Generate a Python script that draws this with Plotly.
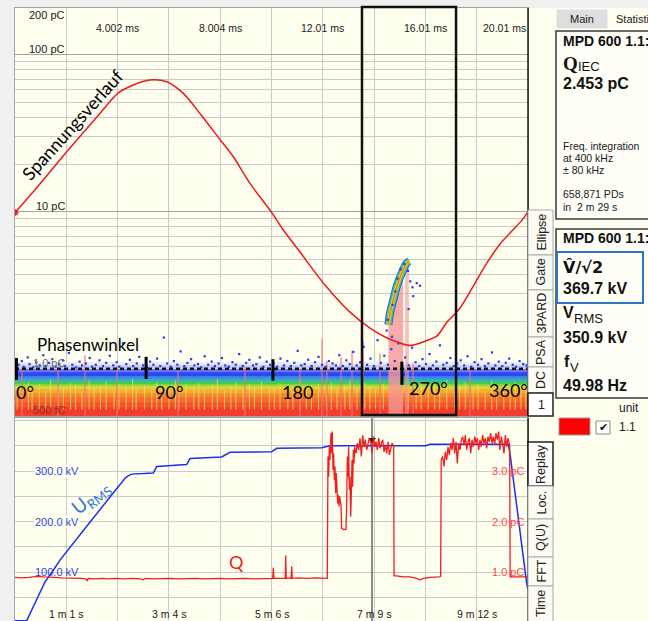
import numpy as np
import plotly.graph_objects as go

W, H = 648, 621


def fx(x):
    """pixel column -> paper x"""
    return x / W


def fy(y):
    """pixel row -> paper y"""
    return 1 - y / H


CREAM = "#fffff0"
GRID = "#cacaca"
SANS = "Liberation Sans, Arial, sans-serif"
SERIF = "Liberation Serif, Times New Roman, serif"
HAND = "Lato, Calibri, sans-serif"

# ------------------------------------------------------------------
# Phase resolved PD pattern (one period: 0..360 deg = 0..20.01 ms)
# ------------------------------------------------------------------
grid_phase = [0, 36, 72, 108, 144, 180, 216, 252, 288, 324, 360]
ms_label_phase = [72, 144, 216, 288, 360]
ms_label_text = ["4.002 ms", "8.004 ms", "12.01 ms", "16.01 ms", "20.01 ms"]
charge_minor = [0.6, 0.7, 0.8, 0.9, 2, 3, 4, 5, 6, 7, 8, 9, 20, 30, 40, 50, 60, 70, 80, 90]
charge_major = [10, 100]
charge_label_val = [180, 100, 10]
charge_label_text = ["200 pC", "100 pC", "10 pC"]

# test voltage over one period (kV)
volt_phase = [0, 12.8, 36.3, 59.6, 72.1, 83.0, 94.7, 106.5, 118.1, 129.8, 144.1, 153.2,
              164.9, 180.1, 188.3, 200.0, 217.5, 235.1, 249.1, 261.1, 270.2, 277.2, 286.3,
              296.1, 303.2, 307.4, 312.3, 331.2, 340.4, 355.8, 360]
volt_kv = [0, 82, 240, 391, 470, 503, 523, 516, 470, 391, 286, 220,
           115, 0, -69, -156, -286, -393, -456, -495, -515, -525, -511,
           -487, -432, -408, -377, -199, -124, -30, 2]

# noise floor of the pattern: charge rows (pC edges) and their colour
floor_edges = [0.50, 0.57, 0.61, 0.66, 0.70, 0.74, 0.77, 0.80, 0.83, 0.86, 0.90, 0.95, 1.00, 1.05, 1.10]
floor_colors = ["#f23d2d", "#f4552b", "#f56c2b", "#f5882d", "#f2ae32", "#dcd632", "#96d640",
                "#44c85c", "#2fb8ae", "#3c8cf0", "#2f48ef", "#6676f3", "#c3caf6", "#e8eaf4"]

# short pulses reaching into the floor (phase, top pC)
hair_phase = [1.5, 5, 9.5, 12, 17, 21.5, 25, 30.5, 34, 39,
              42.5, 47, 52, 55.5, 60, 64, 69.5, 73, 78, 82.5,
              85, 91, 96, 99.5, 103, 108, 112.5, 115, 120, 125.5,
              129, 133, 138.5, 142, 147, 151.5, 155, 160, 164.5, 168,
              173, 178.5, 182, 186, 191.5, 195, 200, 204.5, 208, 213,
              218.5, 222, 226, 231.5, 235, 240, 245.5, 249, 253, 258.5,
              276, 281.5, 285, 290, 294.5, 298, 303, 308.5, 312, 316,
              321.5, 325, 330, 334.5, 338, 343, 347.5, 351, 355, 358.5]
hair_top = [0.78, 0.74, 0.82, 0.76, 0.80, 0.73, 0.85, 0.77, 0.75, 0.81,
            0.79, 0.72, 0.84, 0.76, 0.78, 0.83, 0.74, 0.80, 0.77, 0.86,
            0.75, 0.79, 0.73, 0.82, 0.78, 0.76, 0.84, 0.74, 0.80, 0.77,
            0.81, 0.75, 0.79, 0.86, 0.73, 0.78, 0.82, 0.76, 0.80, 0.74,
            0.83, 0.77, 0.75, 0.81, 0.79, 0.72, 0.85, 0.76, 0.78, 0.80,
            0.74, 0.82, 0.77, 0.79, 0.84, 0.75, 0.81, 0.78, 0.73, 0.80,
            0.79, 0.76, 0.83, 0.74, 0.81, 0.77, 0.85, 0.75, 0.78, 0.82,
            0.76, 0.80, 0.73, 0.84, 0.77, 0.79, 0.75, 0.82, 0.78, 0.80]

# taller single pulses
spike_phase = [4.9, 30.2, 49.1, 71.6, 114.4, 161.4, 200.0, 215.4, 218.9, 228.8, 236.5, 244.2, 256.1, 279.3, 319.3]
spike_top = [1.02, 0.98, 1.22, 1.05, 0.97, 1.04, 0.99, 1.55, 1.12, 1.18, 1.30, 1.50, 1.25, 1.08, 1.00]

# isolated pulses just above the noise floor
dot_phase = [2.5, 4.8, 6.1, 8.9, 10.2, 12.7, 14.9, 17.3, 19.8, 21.4, 23.9, 26.2, 28.5, 31.0, 33.6,
             35.1, 37.8, 40.2, 42.9, 45.3, 47.1, 49.8, 52.4, 54.0, 56.7, 59.3, 61.8, 64.0, 66.5,
             68.9, 71.4, 73.2, 75.8, 78.1, 80.6, 82.9, 85.5, 87.2, 89.9, 92.6, 94.8, 97.1, 99.7,
             101.9, 104.4, 106.8, 109.3, 111.5, 113.9, 116.2, 118.8, 121.0, 123.6, 125.9, 128.4,
             130.7, 133.1, 135.6, 138.0, 140.3, 142.9, 145.2, 147.5, 150.1, 152.6, 154.9, 157.3,
             159.8, 162.2, 164.5, 167.0, 169.4, 171.8, 174.3, 176.6, 179.0, 181.5, 183.9, 186.3,
             188.8, 191.1, 193.6, 196.0, 198.4, 200.9, 203.3, 205.7, 208.2, 210.6, 213.0, 215.5,
             217.9, 220.3, 222.8, 225.2, 227.6, 230.1, 232.5, 234.9, 237.4, 239.8, 242.2, 244.7,
             247.1, 249.5, 251.9, 254.4, 256.8, 259.2, 261.7, 264.1, 266.5, 269.0, 271.4, 273.8,
             276.3, 278.7, 281.1, 283.6, 286.0, 288.4, 290.9, 293.3, 295.7, 298.2, 300.6, 303.0,
             305.5, 307.9, 310.3, 312.8, 315.2, 317.6, 320.1, 322.5, 324.9, 327.4, 329.8, 332.2,
             334.7, 337.1, 339.5, 342.0, 344.4, 346.8, 349.3, 351.7, 354.1, 356.6, 358.9]
dot_pc = [1.06, 1.12, 1.03, 1.18, 1.07, 1.02, 1.10, 1.05, 1.22, 1.04, 1.09, 1.15, 1.03, 1.07, 1.13,
          1.04, 1.26, 1.06, 1.02, 1.11, 1.05, 1.08, 1.17, 1.03, 1.06, 1.13, 1.04, 1.09, 1.21,
          1.05, 1.10, 1.03, 1.45, 1.07, 1.14, 1.04, 1.08, 1.19, 1.05, 1.03, 1.11, 1.06, 1.16,
          1.04, 1.58, 1.08, 1.03, 1.12, 1.06, 1.29, 1.04, 1.09, 1.15, 1.05, 1.07,
          1.02, 1.20, 1.06, 1.11, 1.04, 1.08, 1.17, 1.05, 1.03, 1.10, 1.06, 1.24,
          1.04, 1.09, 1.14, 1.05, 1.07, 1.18, 1.03, 1.11, 1.06, 1.08, 1.03, 1.16,
          1.05, 1.12, 1.04, 1.09, 1.30, 1.05, 1.07, 1.14, 1.04, 1.10, 1.19, 1.06,
          1.03, 1.12, 1.08, 1.05, 1.22, 1.04, 1.13, 1.07, 1.28, 1.05, 1.10, 1.38,
          1.06, 1.16, 1.04, 1.52, 1.09, 1.21, 1.06, 1.33, 1.12, 1.45, 1.07, 1.18,
          1.05, 1.36, 1.10, 1.04, 1.15, 1.07, 1.24, 1.05, 1.11, 1.41, 1.06, 1.09,
          1.17, 1.04, 1.08, 1.13, 1.05, 1.20, 1.03, 1.10, 1.06, 1.15, 1.04, 1.08,
          1.27, 1.05, 1.11, 1.04, 1.09, 1.16, 1.06, 1.03, 1.12, 1.07, 1.05]

# PD cluster in the negative half wave (ridge of the pattern)
cluster_phase = [262.0, 263.2, 265.5, 267.9, 271.4, 274.9, 276.7]
cluster_pc = [1.91, 2.26, 2.75, 3.34, 4.07, 4.71, 4.83]
cluster_dot_phase = [260.8, 261.5, 264.5, 266.9, 268.4, 270.6, 273.2, 275.8, 277.4, 278.9, 281.9, 284.2, 279.5, 276.2, 264.9]
cluster_dot_pc = [1.75, 2.05, 1.60, 3.10, 3.75, 4.30, 4.65, 4.20, 3.60, 3.30, 3.51, 3.38, 2.90, 2.40, 2.55]
# PD magnitude histogram bars under the cluster
bar_env_phase = [262.0, 262.0, 263.2, 265.5, 267.9, 271.4, 272.3, 272.3]
bar_env_pc = [0.5, 1.91, 2.26, 2.75, 3.34, 4.07, 4.20, 0.5]
bar2_phase = [273.8, 273.8, 276.4, 276.4]
bar2_pc = [0.5, 4.83, 4.83, 0.5]

# phase markers and labels
phase_mark = [1, 92, 181, 271.5]
phase_mark_lo = [0.85, 0.86, 0.84, 0.79]
phase_mark_hi = [1.17, 1.19, 1.15, 1.11]
phase_label_text = ["0°", "90°", "180", "270°", "360°"]
phase_label_pos = [7, 108, 198.5, 290, 346]
phase_label_pc = [0.714, 0.714, 0.714, 0.757, 0.735]

gate_phase = [243.5, 309.5]

# ------------------------------------------------------------------
# Trend over time: test voltage (kV RMS) and apparent charge (pC)
# ------------------------------------------------------------------
time_grid = [0, 61.5, 123, 184.5, 246, 307.5, 369, 430.5, 492, 553.5, 615]
time_label_val = [61.5, 184.5, 307.5, 430.5, 553.5]
time_label_text = ["1 m 1 s", "3 m 4 s", "5 m 6 s", "7 m 9 s", "9 m 12 s"]
kv_grid = [50, 100, 150, 200, 250, 300, 350, 400]
kv_label_val = [300, 200, 100]
pc_label_val = [3.0, 2.0, 1.0]

urms_time = [0, 14.0, 21.9, 30.0, 36.0, 45.9, 53.9, 86.0, 131.9, 135.0, 139.9, 165.8, 169.9, 205.8,
             209.8, 247.8, 257.8, 307.7, 313.7, 367.7, 377.6, 492.7, 497.5, 591.4, 593.4, 613.4, 615]
urms_kv = [4, 4, 32, 62, 81, 104, 124, 191, 286, 290, 294, 296, 309, 313,
           325, 328, 337, 338, 345, 346, 350, 350, 353, 353, 335, 78, 66]

q_time = [0, 8, 16, 22, 28, 34, 40, 48, 56, 64, 72, 80, 85, 86.5, 88, 96, 104, 112, 120, 130, 140,
          150, 154, 156, 166, 176, 186, 196, 206, 216, 226, 236, 246, 256, 266, 276, 286, 296, 304,
          309, 309.7, 310.4, 318, 324, 324.5, 325.2, 328, 331, 331.7, 332.4, 340, 350, 360, 368, 374.4,
          375.2, 376.0, 376.8, 377.6, 378.8, 379.6, 380.4, 381.2, 382.0, 382.8, 383.6, 384.4, 385.2,
          386.0, 386.8, 387.6, 388.4, 389.2, 390.0, 390.8, 391.6, 393.6, 396.8, 397.6, 398.4, 399.2,
          400.0, 400.8, 401.6, 402.4, 403.2, 404.0, 404.8, 405.6, 406.4, 407.2, 408.8, 410.4, 412.0,
          413.6, 415.2, 416.8, 418.4, 420.0, 421.6, 423.2, 424.8, 426.4, 428.0, 429.6, 431.2, 432.8,
          434.4, 436.0, 437.6, 439.2, 440.8, 442.4, 444.0, 445.6, 447.2, 448.8, 450.4, 452.0, 453.2,
          454.0, 454.4, 457.6, 465.5, 473.5, 481.5, 485.5, 489.5, 497.5, 508.7, 510.3,
          511.0, 512.7, 514.3, 515.9, 517.5, 519.1, 520.7, 522.3, 523.9, 525.5, 527.1, 528.7, 530.3,
          531.9, 533.5, 535.1, 536.7, 538.3, 539.9, 541.5, 543.1, 544.7, 546.3, 547.9, 549.5, 551.1,
          552.7, 554.3, 555.9, 557.4, 559.0, 560.6, 562.2, 563.8, 565.4, 567.0, 568.6, 570.2, 571.8,
          573.4, 575.0, 576.6, 578.2, 579.8, 581.4, 583.0, 584.6, 586.2, 587.8, 589.4, 591.0, 592.2,
          593.0, 593.6, 600, 607, 615]
q_pc = [0.90, 0.89, 0.90, 0.91, 0.92, 0.91, 0.90, 0.90, 0.89, 0.89, 0.88, 0.88, 0.87, 0.83, 0.88, 0.87, 0.88, 0.87, 0.88, 0.87, 0.88,
        0.87, 0.85, 0.88, 0.87, 0.88, 0.88, 0.87, 0.88, 0.88, 0.87, 0.88, 0.88, 0.87, 0.88, 0.88, 0.87, 0.88, 0.88,
        0.88, 1.09, 0.88, 0.88, 0.88, 1.33, 0.88, 0.89, 0.88, 1.12, 0.88, 0.89, 0.88, 0.89, 0.88, 0.88,
        3.29, 2.89, 3.48, 3.22, 3.75, 3.35, 3.78, 3.02, 3.35, 2.82, 3.09, 2.56, 2.96,
        2.63, 2.36, 2.53, 2.30, 2.50, 2.43, 2.33, 1.87, 1.85, 1.85, 2.30, 3.29, 2.89,
        3.48, 2.63, 2.89, 2.10, 2.56, 3.22, 2.69, 3.42, 3.15, 3.48, 3.35, 3.55, 3.42,
        3.65, 3.29, 3.71, 3.48, 3.62, 3.42, 3.55, 3.65, 3.58, 3.35, 3.68, 3.48, 3.58,
        3.42, 3.65, 3.45, 3.55, 3.62, 3.38, 3.52, 3.35, 3.58, 3.32, 3.48, 3.55, 3.52,
        3.50, 0.93, 0.93, 0.91, 0.91, 0.88, 0.85, 0.88, 0.90, 0.91, 0.92,
        3.22, 3.29, 3.09, 3.38, 3.22, 3.48, 3.32, 3.55, 3.42, 3.65, 3.35, 3.58, 3.15,
        3.55, 3.42, 3.62, 3.68, 3.52, 3.71, 3.42, 3.58, 3.65, 3.35, 3.62, 3.48, 3.68,
        3.55, 3.65, 3.42, 3.62, 3.48, 3.71, 3.55, 3.65, 3.45, 3.68, 3.58, 3.75, 3.55,
        3.68, 3.52, 3.75, 3.62, 3.78, 3.42, 3.68, 3.55, 3.35, 3.71, 3.48, 3.65, 3.55,
        3.52, 0.91, 0.91, 0.90, 0.91]

cursor_time = 428.0

# ------------------------------------------------------------------
fig = go.Figure()


def vlines(xs, lo, hi):
    """x/y lists for vertical segments separated by gaps"""
    xx, yy = [], []
    for x, a, b in zip(xs, lo, hi):
        xx += [x, x, None]
        yy += [a, b, None]
    return xx, yy


# noise floor rows
n_rows = len(floor_colors)
scale = [[i / (n_rows - 1), c] for i, c in enumerate(floor_colors)]
fig.add_trace(go.Heatmap(
    x=[0, 360], y=floor_edges, z=[[i] for i in range(n_rows)],
    colorscale=scale, zmin=0, zmax=n_rows - 1, showscale=False, hoverinfo="skip",
    xaxis="x", yaxis="y"))

hx, hy = vlines(hair_phase, [0.55] * len(hair_phase), hair_top)
fig.add_trace(go.Scatter(x=hx, y=hy, mode="lines", line=dict(color="rgba(250,214,96,0.85)", width=1),
                         hoverinfo="skip", xaxis="x", yaxis="y"))
sx, sy = vlines(spike_phase, [0.5] * len(spike_phase), spike_top)
fig.add_trace(go.Scatter(x=sx, y=sy, mode="lines", line=dict(color="rgba(236,118,118,0.75)", width=1.5),
                         hoverinfo="skip", xaxis="x", yaxis="y"))

# histogram bars below the cluster
for bp, bq, op in ((bar_env_phase, bar_env_pc, 0.8), (bar2_phase, bar2_pc, 0.6)):
    fig.add_trace(go.Scatter(x=bp, y=bq, mode="lines", fill="toself", line=dict(width=0),
                             fillcolor=f"rgba(246,150,150,{op})", hoverinfo="skip", xaxis="x", yaxis="y"))

fig.add_trace(go.Scatter(x=dot_phase, y=dot_pc, mode="markers",
                         marker=dict(symbol="square", size=2.2, color="#2236f5", line=dict(width=0)),
                         hoverinfo="skip", xaxis="x", yaxis="y"))

# cluster ridge, drawn as nested colour layers (density)
for wdt, col in ((8, "#3048f0"), (6.5, "#22b4e6"), (5, "#3ccf4c"), (3.2, "#e8e030"), (1.6, "#f07a28")):
    fig.add_trace(go.Scatter(x=cluster_phase, y=cluster_pc, mode="lines",
                             line=dict(color=col, width=wdt, shape="spline"),
                             hoverinfo="skip", xaxis="x", yaxis="y"))
fig.add_trace(go.Scatter(x=cluster_dot_phase, y=cluster_dot_pc, mode="markers",
                         marker=dict(symbol="square", size=2.2, color="#2236f5"),
                         hoverinfo="skip", xaxis="x", yaxis="y"))

# 1 pC threshold
fig.add_trace(go.Scatter(x=[0, 360], y=[1, 1], mode="lines",
                         line=dict(color="#111111", width=2.5, dash="4px,3px"),
                         hoverinfo="skip", xaxis="x", yaxis="y"))

mx, my = vlines(phase_mark, phase_mark_lo, phase_mark_hi)
fig.add_trace(go.Scatter(x=mx, y=my, mode="lines", line=dict(color="#000000", width=3),
                         hoverinfo="skip", xaxis="x", yaxis="y"))

# test voltage
fig.add_trace(go.Scatter(x=volt_phase, y=volt_kv, mode="lines",
                         line=dict(color="#ea1a1e", width=1.5, shape="spline", smoothing=0.8),
                         hoverinfo="skip", xaxis="x", yaxis="y3"))
fig.add_trace(go.Scatter(x=[volt_phase[0]], y=[volt_kv[0]], mode="markers",
                         marker=dict(symbol="asterisk", size=6, color="#ea1a1e", line=dict(width=1.5, color="#ea1a1e")),
                         hoverinfo="skip", xaxis="x", yaxis="y3"))

# trend chart
fig.add_trace(go.Scatter(x=urms_time, y=urms_kv, mode="lines", line=dict(color="#1c2ef2", width=1.5),
                         hoverinfo="skip", xaxis="x2", yaxis="y2"))
fig.add_trace(go.Scatter(x=q_time, y=q_pc, mode="lines", line=dict(color="#f01e1e", width=1.3),
                         hoverinfo="skip", xaxis="x2", yaxis="y4"))
fig.add_trace(go.Scatter(x=[cursor_time, cursor_time], y=[3.75, 404.9], mode="lines",
                         line=dict(color="#8a8a8a", width=2), hoverinfo="skip", xaxis="x2", yaxis="y2"))
fig.add_trace(go.Scatter(x=[cursor_time], y=[362], mode="markers",
                         marker=dict(symbol="triangle-down", size=7, color="#111111"),
                         hoverinfo="skip", xaxis="x2", yaxis="y2"))

# ------------------------------------------------------------------
shapes = []


def rect(x0, y0, x1, y1, fill=None, line="#a8a8a8", lw=1, layer="above"):
    shapes.append(dict(type="rect", xref="paper", yref="paper", x0=fx(x0), x1=fx(x1), y0=fy(y1), y1=fy(y0),
                       fillcolor=fill if fill else "rgba(0,0,0,0)",
                       line=dict(color=line, width=lw), layer=layer))


# right-hand panel background
rect(528, 8, 649, 622, fill=CREAM, line="rgba(0,0,0,0)", lw=0, layer="below")
# right borders of both charts
shapes.append(dict(type="line", xref="paper", yref="paper", x0=fx(528), x1=fx(528), y0=fy(416), y1=fy(8),
                   line=dict(color="#1a1a1a", width=1.5)))
shapes.append(dict(type="line", xref="paper", yref="paper", x0=fx(528), x1=fx(528), y0=fy(621), y1=fy(418),
                   line=dict(color="#1a1a1a", width=1.5)))
# gate window
shapes.append(dict(type="rect", xref="x", yref="paper", x0=gate_phase[0], x1=gate_phase[1],
                   y0=fy(415), y1=fy(7), line=dict(color="#111111", width=2.5)))

annotations = []


def text(x, y, s, size=11, color="#202020", family=SANS, xanchor="left", angle=0, **kw):
    d = dict(x=fx(x), y=fy(y), xref="paper", yref="paper", text=s, showarrow=False,
             font=dict(size=size, color=color, family=family), xanchor=xanchor, yanchor="middle",
             textangle=angle)
    d.update(kw)
    annotations.append(d)


# side tabs of the pattern view
top_tabs = [("Ellipse", 210, 255), ("Gate", 255, 290), ("3PARD", 290, 337), ("PSA", 337, 367), ("DC", 367, 393)]
for name, a, b in top_tabs:
    rect(528, a, 553, b, fill="#fcfcf5")
    text(541, (a + b) / 2, name, size=12.5, xanchor="center", angle=-90)
rect(528, 393, 553, 416, fill="#ffffff", line="#222222", lw=1.5)
text(541, 405, "1", size=12.5, xanchor="center")

bottom_tabs = [("Replay", 442, 486, True), ("Loc.", 486, 519, False), ("Q(U)", 519, 557, False),
               ("FFT", 557, 586, False), ("Time", 586, 622, False)]
for name, a, b, sel in bottom_tabs:
    if sel:
        rect(528, a, 553, b, fill="#ffffff", line="#222222", lw=1.5)
    else:
        rect(528, a, 553, b, fill="#fcfcf5")
    text(541, (a + b) / 2, name, size=12.5, xanchor="center", angle=-90)

# info panel
rect(557, 10, 607, 28, fill="#dedede", line="#dedede")
text(582, 19, "Main", size=11, xanchor="center")
text(614, 19, "Statistic", size=11)

rect(556, 31, 652, 219, fill="#fffff8", line="#3a3a3a", lw=1.5)
text(561, 41, "<b>MPD 600 1.1:</b>", size=14, color="#111111")
text(561, 63, "<b>Q</b>", size=19, color="#111111", family=SERIF)
text(576, 66, "IEC", size=13, color="#111111")
text(561, 83, "<b>2.453 pC</b>", size=16, color="#111111")
text(561, 146, "Freq. integration", size=10.5)
text(561, 158, "at 400 kHz", size=10.5)
text(561, 170, "± 80 kHz", size=10.5)
text(561, 194, "658,871 PDs", size=10.5)
text(561, 207, "in  2 m 29 s", size=10.5)

rect(556, 229, 652, 398, fill="#fffff8", line="#3a3a3a", lw=1.5)
rect(557, 252, 643, 303, line="#2a78c0", lw=2)
text(561, 238, "<b>MPD 600 1.1:</b>", size=14, color="#111111")
text(561, 267, "<b>V\u0302/\u221a2</b>", size=16, color="#111111", family="DejaVu Sans")
text(561, 288, "<b>369.7 kV</b>", size=16, color="#111111")
text(561, 312, "<b>V</b>", size=16, color="#111111")
text(572, 318, "RMS", size=13, color="#111111")
text(561, 337, "<b>350.9 kV</b>", size=16, color="#111111")
text(562, 361, "<b>f</b>", size=16, color="#111111")
text(568, 367, "V", size=13, color="#111111")
text(561, 385, "<b>49.98 Hz</b>", size=16, color="#111111")
text(629, 408, "unit", size=12, xanchor="center")

rect(559, 418, 590, 435, fill="#ff0000", line="#9a9a9a")
rect(596, 421, 610, 434, fill="#ffffff", line="#8a8a8a")
text(603, 427.5, "✔", size=11, color="#111111", xanchor="center")
text(617, 427.5, "1.1", size=12)

# labels of the pattern view
for p, s in zip(ms_label_phase, ms_label_text):
    annotations.append(dict(x=p, y=fy(28), xref="x", yref="paper", text=s, showarrow=False,
                            font=dict(size=10.5, color="#202020", family=SANS),
                            xanchor="right" if p == 360 else "center", yanchor="middle"))
for v, s, dy in zip(charge_label_val, charge_label_text, [0, 6, 6]):
    annotations.append(dict(x=36.3, y=np.log10(v), xref="x", yref="y", text=s, showarrow=False,
                            font=dict(size=11, color="#202020", family=SANS),
                            xanchor="right", yanchor="middle", yshift=dy))
annotations.append(dict(x=36.3, y=0, xref="x", yref="y", text="1.0 pC", showarrow=False,
                        font=dict(size=11, color="#6a6a6a", family=SANS), xanchor="right", yanchor="middle",
                        yshift=6))
annotations.append(dict(x=36.3, y=np.log10(0.5), xref="x", yref="y", text="500 fC", showarrow=False,
                        font=dict(size=11, color="#9c2a1c", family=SANS), xanchor="right", yanchor="middle",
                        yshift=6))
for s, p, q in zip(phase_label_text, phase_label_pos, phase_label_pc):
    annotations.append(dict(x=p, y=np.log10(q), xref="x", yref="y", text=s, showarrow=False,
                            font=dict(size=18, color="#000000", family=HAND), xanchor="center", yanchor="middle"))
annotations.append(dict(x=14, y=np.log10(1.42), xref="x", yref="y", text="Phasenwinkel", showarrow=False,
                        font=dict(size=17, color="#000000", family=HAND), xanchor="left", yanchor="middle"))
annotations.append(dict(x=40, y=np.log10(35.8), xref="x", yref="y", text="Spannungsverlauf", showarrow=False,
                        font=dict(size=18, color="#000000", family=HAND), xanchor="center", yanchor="middle",
                        textangle=-48))

# labels of the trend chart
for v in kv_label_val:
    annotations.append(dict(x=fx(57), y=v, xref="paper", yref="y2", text=f"{v:.1f} kV", showarrow=False,
                            font=dict(size=11, color="#2f3fe6", family=SANS), xanchor="center", yanchor="middle",
                            bgcolor=CREAM if v > 100 else None, borderpad=0))
for v in pc_label_val:
    annotations.append(dict(x=fx(508), y=v, xref="paper", yref="y4", text=f"{v:.1f} pC", showarrow=False,
                            font=dict(size=11, color="#ff4848", family=SANS), xanchor="center", yanchor="middle"))
for v, s in zip(time_label_val, time_label_text):
    annotations.append(dict(x=v, y=fy(614), xref="x2", yref="paper", text=s, showarrow=False,
                            font=dict(size=10.5, color="#202020", family=SANS), xanchor="center", yanchor="middle"))
annotations.append(dict(x=91, y=247, xref="x2", yref="y2", text="U<sub>RMS</sub>", showarrow=False,
                        font=dict(size=19, color="#2f78d0", family=HAND), xanchor="center", yanchor="middle",
                        textangle=-38))
annotations.append(dict(x=266, y=1.2, xref="x2", yref="y4", text="Q", showarrow=False,
                        font=dict(size=18, color="#ee2020", family=HAND), xanchor="center", yanchor="middle"))

axis_common = dict(showticklabels=False, ticks="", zeroline=False, showline=True, mirror=True,
                   linecolor="#a4a4a4", linewidth=1)

fig.update_layout(
    width=W, height=H, autosize=False,
    margin=dict(l=0, r=0, t=0, b=0, pad=0),
    paper_bgcolor="#f0f0f0", plot_bgcolor=CREAM,
    showlegend=False,
    xaxis=dict(domain=[fx(15), fx(528)], range=[0, 360], anchor="y", tickmode="array", tickvals=grid_phase,
               showgrid=True, gridcolor=GRID, gridwidth=1, **axis_common),
    yaxis=dict(domain=[fy(416), fy(8)], type="log", range=[np.log10(0.5), np.log10(0.5) + 408 / 157],
               anchor="x", tickmode="array", tickvals=charge_major, showgrid=True, gridcolor="#a6a6a6",
               minor=dict(tickmode="array", tickvals=charge_minor, showgrid=True, gridcolor=GRID, ticks=""),
               **axis_common),
    yaxis3=dict(overlaying="y", anchor="x", range=[-803, 807], visible=False),
    xaxis2=dict(domain=[fx(15), fx(528)], range=[0, 615], anchor="y2", tickmode="array", tickvals=time_grid,
                showgrid=True, gridcolor=GRID, gridwidth=1, **axis_common),
    yaxis2=dict(domain=[0, fy(418)], range=[3.75, 404.9], anchor="x2", tickmode="array", tickvals=kv_grid,
                showgrid=True, gridcolor=GRID, gridwidth=1, **axis_common),
    yaxis4=dict(overlaying="y2", anchor="x2", range=[0.0375, 4.049], visible=False, side="right"),
    shapes=shapes,
    annotations=annotations,
)

fig.write_html("out.html")
